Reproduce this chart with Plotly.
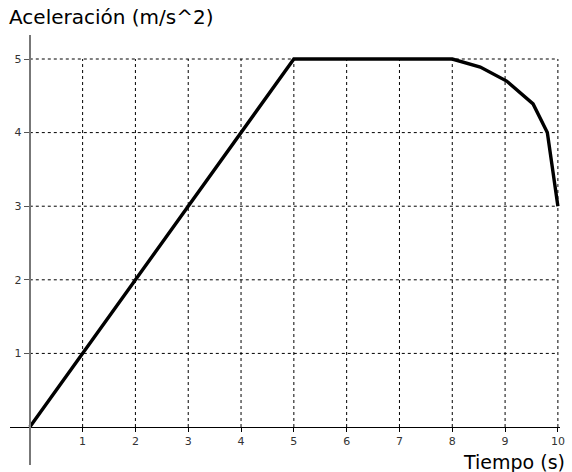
import plotly.graph_objects as go

# Data
tiempo = [0, 5, 8, 8.53, 9.03, 9.53, 9.8, 10]
aceleracion = [0, 5, 5, 4.89, 4.70, 4.39, 4.0, 3.0]
x_ticks = [1, 2, 3, 4, 5, 6, 7, 8, 9, 10]
y_ticks = [1, 2, 3, 4, 5]
x_title = "Tiempo (s)"
y_title = "Aceleración (m/s^2)"

W, H = 572, 472
ml, mr, mt, mb = 10, 7, 35, 7
x_range = [-0.375, 10.04]
y_range = [-0.516, 5.326]

fig = go.Figure()
fig.add_trace(go.Scatter(x=tiempo, y=aceleracion, mode="lines",
                         line=dict(color="black", width=3.4),
                         hoverinfo="skip", showlegend=False))

shapes = []
for xv in x_ticks:
    shapes.append(dict(type="line", xref="x", yref="y", x0=xv, x1=xv,
                       y0=0, y1=max(y_ticks),
                       line=dict(color="black", width=1, dash="3px,3px"), layer="below"))
for yv in y_ticks:
    shapes.append(dict(type="line", xref="x", yref="y", x0=0, x1=max(x_ticks),
                       y0=yv, y1=yv,
                       line=dict(color="black", width=1, dash="3px,3px"), layer="below"))

xpos = (0 - y_range[0]) / (y_range[1] - y_range[0])
ypos = (0 - x_range[0]) / (x_range[1] - x_range[0])

fig.update_layout(
    width=W, height=H,
    margin=dict(l=ml, r=mr, t=mt, b=mb),
    paper_bgcolor="white", plot_bgcolor="white",
    shapes=shapes,
    xaxis=dict(range=x_range, tickvals=x_ticks, showgrid=False, zeroline=False,
               showline=True, linecolor="black", linewidth=1,
               ticks="outside", ticklen=4, tickcolor="black",
               anchor="free", position=xpos,
               tickfont=dict(family="DejaVu Sans", size=11, color="#333")),
    yaxis=dict(range=y_range, tickvals=y_ticks, showgrid=False, zeroline=False,
               showline=True, linecolor="#777", linewidth=2,
               ticks="outside", ticklen=5, tickcolor="#555",
               anchor="free", position=ypos,
               tickfont=dict(family="DejaVu Sans", size=11, color="#333")),
    annotations=[
        dict(text=y_title, xref="paper", yref="paper", x=-0.005, y=1.0,
             xanchor="left", yanchor="bottom", showarrow=False, yshift=4,
             font=dict(family="DejaVu Sans", size=20, color="black")),
        dict(text=x_title, xref="paper", yref="paper", x=1.01, y=0.0,
             xanchor="right", yanchor="bottom", showarrow=False, yshift=-9,
             borderpad=0,
             font=dict(family="DejaVu Sans", size=19, color="black")),
    ],
)

fig.write_html("out.html")
